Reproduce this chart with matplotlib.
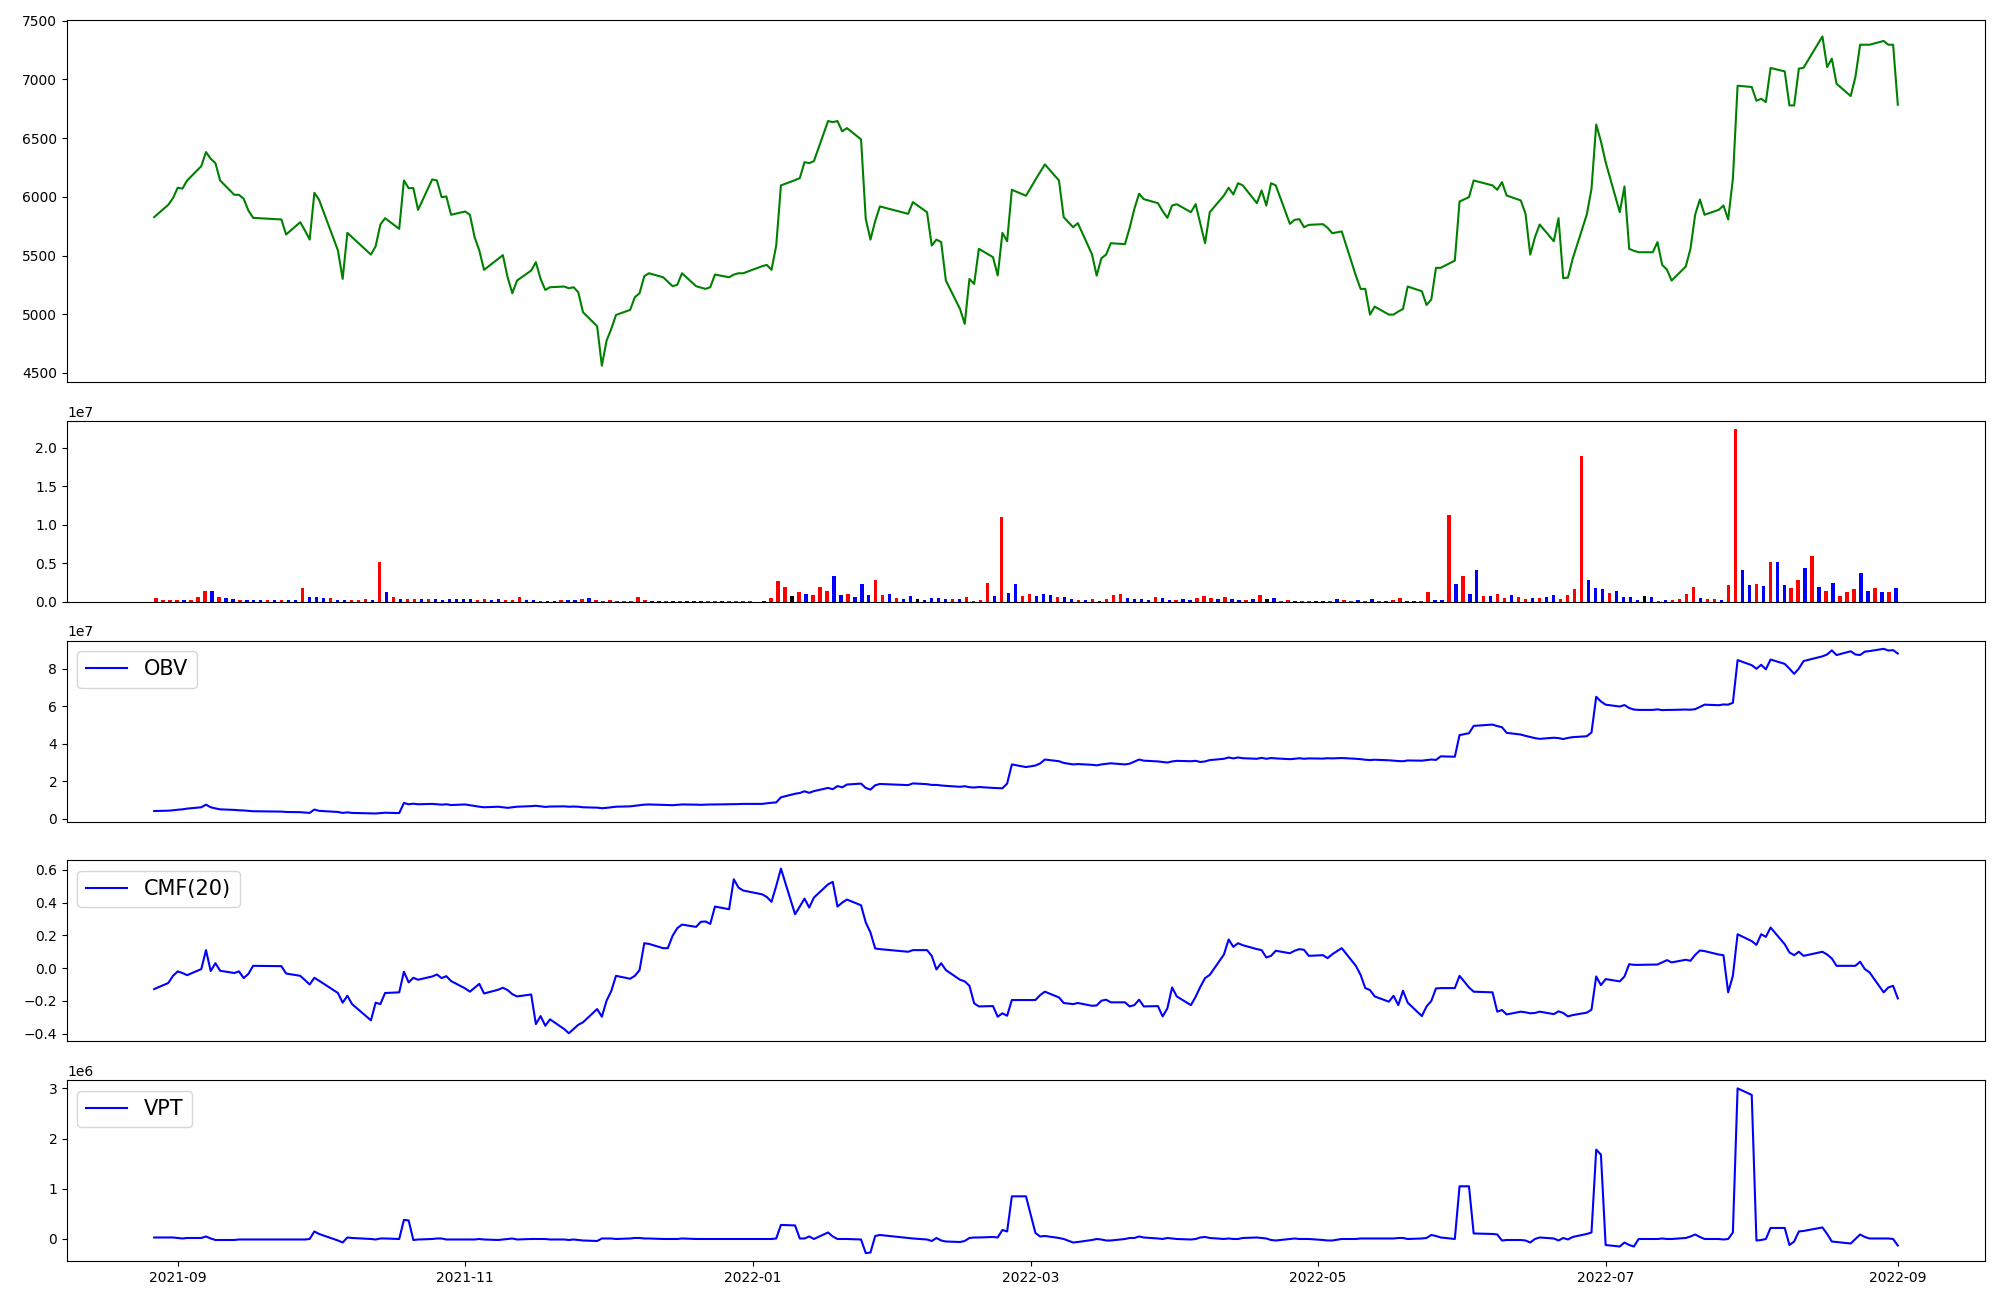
import numpy as np
import pandas as pd
import matplotlib
matplotlib.use("Agg")
import matplotlib.pyplot as plt

# Korean market holidays inside the range (no trading)
holidays = ['2021-09-20', '2021-09-21', '2021-09-22', '2021-10-04', '2021-10-11',
            '2021-12-31', '2022-01-31', '2022-02-01', '2022-02-02', '2022-03-01',
            '2022-03-09', '2022-05-05', '2022-06-01', '2022-06-06', '2022-08-15']

close = [
    5827, 5932, 5989, 6077, 6070, 6139, 6261, 6381, 6324, 6287,
    6139, 6017, 6017, 5983, 5883, 5821, 5807, 5679, 5784, 5713,
    5636, 6034, 5974, 5543, 5301, 5693, 5656, 5508, 5579, 5764,
    5818, 5727, 6139, 6074, 6074, 5889, 6148, 6139, 5997, 6003,
    5847, 5875, 5847, 5656, 5543, 5378, 5472, 5503, 5315, 5179,
    5287, 5372, 5443, 5301, 5207, 5230, 5236, 5221, 5230, 5187,
    5017, 4898, 4562, 4775, 4875, 4994, 5037, 5145, 5179, 5324,
    5349, 5315, 5278, 5239, 5250, 5349, 5239, 5227, 5216, 5230,
    5338, 5315, 5338, 5349, 5349, 5409, 5420, 5378, 5585, 6097,
    6142, 6159, 6295, 6287, 6304, 6645, 6636, 6645, 6557, 6585,
    6489, 5812, 5636, 5793, 5918, 5855, 5955, 5869, 5585, 5636,
    5614, 5287, 5045, 4918, 5301, 5258, 5557, 5486, 5330, 5693,
    5622, 6060, 6009, 6145, 6210, 6276, 6139, 5827, 5741, 5776,
    5511, 5329, 5477, 5508, 5605, 5597, 5736, 5898, 6026, 5980,
    5946, 5878, 5821, 5926, 5937, 5869, 5937, 5770, 5605, 5869,
    6011, 6077, 6020, 6116, 6097, 5946, 6054, 5926, 6116, 6097,
    5770, 5804, 5810, 5741, 5761, 5767, 5736, 5690, 5705, 5329,
    5216, 5216, 4997, 5065, 4997, 4997, 5023, 5045, 5236, 5196,
    5079, 5125, 5395, 5395, 5457, 5960, 5997, 6139, 6097, 6060,
    6125, 6011, 5969, 5855, 5508, 5656, 5764, 5622, 5818, 5307,
    5312, 5472, 5849, 6068, 6616, 6472, 6295, 5869, 6088, 5557,
    5540, 5528, 5528, 5614, 5420, 5381, 5287, 5406, 5557, 5849,
    5977, 5847, 5889, 5926, 5807, 6153, 6946, 6935, 6818, 6835,
    6807, 7097, 7068, 6778, 6778, 7091, 7099, 7366, 7105, 7176,
    6963, 6858, 7020, 7295, 7295, 7295, 7327, 7295, 7295, 6784,
]

# volume in millions of shares
volume_m = [
    0.52, 0.26, 0.26, 0.26, 0.26, 0.26, 0.65, 1.43, 1.43, 0.65,
    0.52, 0.39, 0.26, 0.26, 0.26, 0.26, 0.26, 0.26, 0.26, 0.26,
    0.26, 1.82, 0.65, 0.65, 0.52, 0.52, 0.26, 0.26, 0.26, 0.26,
    0.39, 0.26, 5.2, 1.3, 0.65, 0.39, 0.39, 0.39, 0.39, 0.39,
    0.39, 0.26, 0.39, 0.39, 0.39, 0.39, 0.26, 0.39, 0.26, 0.39,
    0.26, 0.26, 0.65, 0.26, 0.26, 0.13, 0.13, 0.13, 0.26, 0.26,
    0.26, 0.39, 0.52, 0.26, 0.13, 0.26, 0.13, 0.13, 0.13, 0.65,
    0.26, 0.13, 0.13, 0.13, 0.13, 0.13, 0.13, 0.13, 0.13, 0.13,
    0.13, 0.13, 0.13, 0.13, 0.13, 0.13, 0.05, 0.13, 0.52, 2.73,
    1.95, 0.78, 1.3, 1.04, 0.91, 1.95, 1.43, 3.38, 0.91, 1.04,
    0.65, 2.34, 0.91, 2.86, 0.91, 1.04, 0.52, 0.39, 0.78, 0.39,
    0.26, 0.52, 0.52, 0.39, 0.39, 0.39, 0.65, 0.13, 0.26, 2.47,
    0.78, 11.06, 1.17, 2.34, 0.78, 1.04, 0.78, 1.04, 0.91, 0.65,
    0.65, 0.39, 0.26, 0.26, 0.39, 0.13, 0.39, 0.91, 1.04, 0.52,
    0.39, 0.39, 0.26, 0.65, 0.52, 0.26, 0.26, 0.39, 0.26, 0.52,
    0.78, 0.52, 0.39, 0.65, 0.39, 0.26, 0.26, 0.39, 0.91, 0.39,
    0.52, 0.13, 0.26, 0.13, 0.13, 0.13, 0.13, 0.13, 0.13, 0.39,
    0.26, 0.13, 0.26, 0.13, 0.39, 0.13, 0.13, 0.26, 0.52, 0.13,
    0.13, 0.13, 1.3, 0.26, 0.26, 11.32, 2.34, 3.38, 1.04, 4.16,
    0.78, 0.78, 1.04, 0.52, 0.91, 0.65, 0.39, 0.52, 0.52, 0.65,
    0.91, 0.39, 0.91, 1.69, 18.99, 2.86, 1.82, 1.69, 1.17, 1.43,
    0.65, 0.65, 0.26, 0.78, 0.65, 0.13, 0.26, 0.26, 0.39, 1.04,
    1.95, 0.52, 0.39, 0.39, 0.26, 2.21, 22.37, 4.16, 2.21, 2.34,
    2.08, 5.2, 5.2, 2.21, 1.82, 2.86, 4.42, 6.0, 1.95, 1.43,
    2.47, 0.78, 1.3, 1.69, 3.77, 1.43, 1.82, 1.3, 1.3, 1.82,
]

# candle direction: 1 up, -1 down, 0 unchanged
direction = [
    1, 1, 1, 1, -1, 1, 1, 1, -1, 1,
    -1, -1, 1, -1, -1, -1, 1, -1, 1, -1,
    -1, 1, -1, -1, -1, 1, -1, -1, 1, 1,
    1, -1, 1, -1, 1, -1, 1, 1, -1, 1,
    -1, -1, -1, -1, -1, -1, 1, 1, -1, -1,
    1, 1, 1, -1, -1, 1, -1, -1, 1, -1,
    -1, 1, -1, 1, 1, 1, 1, 1, 1, 1,
    1, -1, -1, 1, -1, 1, -1, -1, -1, 1,
    1, -1, 1, 1, 1, 1, -1, -1, 1, 1,
    1, 0, 1, -1, 1, 1, 1, -1, -1, 1,
    -1, -1, -1, 1, 1, -1, 1, -1, -1, 0,
    -1, -1, -1, -1, 1, -1, 1, 1, 1, 1,
    -1, 1, -1, -1, 1, 1, -1, -1, -1, 1,
    -1, -1, 1, -1, 1, -1, 1, 1, 1, -1,
    -1, -1, -1, 1, -1, -1, 1, -1, -1, 1,
    1, 1, -1, 1, -1, -1, 1, -1, 1, 0,
    -1, 1, 1, -1, 1, 1, -1, -1, 1, -1,
    1, 1, -1, 1, -1, 1, -1, 1, 1, -1,
    -1, 1, 1, -1, -1, 1, -1, 1, -1, -1,
    1, -1, 1, 1, -1, 1, 1, -1, 1, -1,
    -1, 1, 1, 1, 1, -1, -1, -1, 1, -1,
    -1, -1, -1, 0, -1, 1, -1, 1, 1, 1,
    1, -1, 1, 1, -1, 1, 1, -1, -1, 1,
    -1, 1, -1, -1, 1, 1, -1, 1, -1, 1,
    -1, 1, 1, 1, -1, -1, 1, -1, 1, -1,
]

# OBV in millions
obv_m = [
    4.2, 4.4, 4.6, 4.9, 5.1, 5.5, 6.2, 7.6, 6.2, 5.6,
    5.1, 4.8, 4.6, 4.5, 4.3, 4.1, 3.9, 3.7, 3.6, 3.4,
    3.2, 5.0, 4.3, 3.7, 3.2, 3.5, 3.2, 3.0, 2.9, 3.1,
    3.3, 3.1, 8.5, 7.8, 8.1, 7.8, 8.0, 7.8, 7.6, 7.8,
    7.4, 7.7, 7.3, 6.9, 6.5, 6.2, 6.5, 6.2, 5.9, 6.2,
    6.5, 6.8, 7.0, 6.7, 6.4, 6.6, 6.7, 6.5, 6.6, 6.5,
    6.2, 6.0, 5.7, 5.9, 6.2, 6.5, 6.7, 7.0, 7.3, 7.6,
    7.7, 7.5, 7.4, 7.3, 7.5, 7.7, 7.6, 7.5, 7.6, 7.7,
    7.7, 7.8, 7.8, 7.9, 8.0, 8.0, 8.3, 8.6, 8.8, 11.5,
    13.4, 13.8, 14.7, 13.9, 14.8, 16.5, 15.8, 17.5, 16.8, 18.3,
    18.8, 16.5, 15.6, 17.9, 18.6, 18.0, 18.9, 18.5, 18.1, 18.1,
    17.8, 17.6, 17.1, 17.4, 16.9, 16.7, 17.0, 16.5, 16.4, 16.3,
    18.8, 29.0, 27.6, 28.4, 29.5, 31.6, 30.7, 29.8, 29.0, 29.2,
    28.8, 28.5, 29.0, 29.3, 29.6, 29.0, 29.4, 30.5, 31.6, 31.0,
    30.6, 30.3, 30.0, 30.6, 30.9, 30.7, 30.9, 30.3, 30.6, 31.3,
    32.0, 32.7, 32.2, 32.7, 32.3, 32.0, 32.5, 32.0, 32.4, 32.2,
    31.8, 32.0, 32.3, 32.0, 32.2, 32.1, 32.3, 32.2, 32.4, 32.0,
    31.8, 31.5, 31.3, 31.5, 31.2, 31.0, 30.8, 30.7, 31.1, 31.0,
    31.3, 31.6, 31.4, 33.3, 33.1, 44.6, 45.6, 49.5, 50.2, 49.4,
    48.8, 45.8, 44.9, 44.2, 43.6, 43.0, 42.6, 43.2, 43.0, 42.5,
    43.1, 43.5, 44.0, 46.0, 65.0, 62.5, 60.8, 59.8, 60.6, 59.0,
    58.2, 58.0, 58.0, 58.3, 57.9, 58.0, 58.0, 58.2, 58.1, 58.4,
    59.6, 60.8, 60.5, 60.9, 60.8, 61.8, 84.5, 81.8, 79.9, 82.0,
    79.6, 84.8, 82.5, 80.0, 77.2, 80.0, 84.0, 86.5, 87.5, 89.7,
    87.2, 89.2, 87.5, 87.2, 89.0, 89.3, 90.5, 89.6, 89.8, 88.0,
]

cmf20 = [
    -0.128, -0.091, -0.047, -0.020, -0.030, -0.043, -0.006, 0.110, -0.018, 0.030,
    -0.016, -0.030, -0.020, -0.061, -0.035, 0.014, 0.012, -0.033, -0.047, -0.073,
    -0.100, -0.059, -0.077, -0.152, -0.211, -0.169, -0.220, -0.319, -0.211, -0.220,
    -0.152, -0.148, -0.022, -0.087, -0.059, -0.071, -0.051, -0.039, -0.061, -0.049,
    -0.079, -0.124, -0.144, -0.120, -0.096, -0.155, -0.132, -0.120, -0.134, -0.159,
    -0.173, -0.161, -0.342, -0.293, -0.352, -0.313, -0.372, -0.398, -0.372, -0.346,
    -0.331, -0.250, -0.297, -0.199, -0.140, -0.047, -0.065, -0.047, -0.012, 0.152,
    0.148, 0.122, 0.122, 0.197, 0.244, 0.266, 0.252, 0.283, 0.285, 0.270,
    0.376, 0.360, 0.543, 0.492, 0.474, 0.451, 0.435, 0.405, 0.502, 0.608,
    0.329, 0.376, 0.425, 0.370, 0.431, 0.512, 0.527, 0.376, 0.400, 0.419,
    0.384, 0.279, 0.218, 0.120, 0.116, 0.100, 0.110, 0.110, 0.075, -0.008,
    0.030, -0.012, -0.071, -0.081, -0.108, -0.215, -0.234, -0.232, -0.297, -0.276,
    -0.291, -0.195, -0.195, -0.195, -0.165, -0.144, -0.179, -0.213, -0.220, -0.213,
    -0.230, -0.228, -0.199, -0.193, -0.209, -0.209, -0.234, -0.226, -0.193, -0.234,
    -0.232, -0.295, -0.246, -0.118, -0.173, -0.226, -0.175, -0.114, -0.061, -0.041,
    0.083, 0.175, 0.130, 0.152, 0.140, 0.116, 0.110, 0.065, 0.075, 0.106,
    0.091, 0.106, 0.116, 0.112, 0.075, 0.079, 0.061, 0.085, 0.122, 0.014,
    -0.041, -0.122, -0.134, -0.173, -0.205, -0.169, -0.226, -0.138, -0.211, -0.293,
    -0.234, -0.201, -0.124, -0.122, -0.122, -0.047, -0.118, -0.144, -0.148, -0.266,
    -0.256, -0.283, -0.266, -0.270, -0.276, -0.274, -0.266, -0.281, -0.264, -0.274,
    -0.295, -0.287, -0.272, -0.254, -0.051, -0.104, -0.067, -0.081, -0.051, 0.024,
    0.020, 0.020, 0.022, 0.022, 0.035, 0.049, 0.035, 0.051, 0.045, 0.081,
    0.108, 0.104, 0.083, 0.079, -0.148, -0.047, 0.207, 0.165, 0.142, 0.207,
    0.191, 0.248, 0.146, 0.096, 0.079, 0.100, 0.075, 0.100, 0.083, 0.059,
    0.014, 0.014, 0.014, 0.039, -0.006, -0.026, -0.148, -0.118, -0.108, -0.185,
]

# VPT in millions
vpt_m = [
    0.03, 0.03, 0.03, 0.02, 0.01, 0.02, 0.02, 0.05, 0.01, -0.02,
    -0.02, -0.02, -0.01, -0.01, -0.01, -0.01, -0.01, -0.01, -0.01, -0.01,
    0.0, 0.15, 0.10, -0.03, -0.07, 0.03, 0.02, 0.0, -0.01, 0.01,
    0.01, 0.0, 0.38, 0.37, -0.02, -0.01, 0.0, 0.01, 0.01, -0.01,
    -0.01, -0.01, -0.01, -0.01, 0.0, -0.01, -0.02, -0.01, 0.0, 0.01,
    -0.01, 0.0, 0.0, 0.0, 0.0, -0.01, -0.01, -0.02, -0.01, -0.02,
    -0.03, -0.04, 0.01, 0.01, 0.01, 0.0, 0.01, 0.02, 0.02, 0.01,
    0.01, 0.0, 0.0, 0.0, 0.0, 0.01, 0.0, 0.0, 0.0, 0.0,
    0.0, 0.0, 0.0, 0.0, 0.0, 0.0, 0.0, 0.0, 0.01, 0.28,
    0.27, 0.01, 0.01, 0.05, 0.0, 0.13, 0.05, 0.0, 0.0, 0.0,
    -0.01, -0.28, -0.27, 0.06, 0.08, 0.02, 0.01, -0.01, -0.04, 0.02,
    -0.03, -0.05, -0.06, -0.04, 0.02, 0.03, 0.03, 0.04, 0.03, 0.18,
    0.15, 0.85, 0.85, 0.12, 0.05, 0.06, 0.02, 0.0, -0.07, -0.06,
    -0.02, 0.0, -0.01, -0.03, -0.03, 0.0, 0.02, 0.02, 0.05, 0.03,
    0.01, 0.0, 0.02, 0.01, 0.0, -0.01, 0.0, 0.03, 0.04, 0.02,
    0.0, 0.01, 0.0, 0.0, 0.02, 0.03, 0.02, 0.01, -0.02, -0.03,
    0.0, 0.01, 0.0, 0.0, 0.0, -0.02, -0.03, -0.03, 0.0, 0.0,
    0.01, 0.01, 0.01, 0.01, 0.01, 0.01, 0.02, 0.02, 0.0, 0.01,
    0.02, 0.08, 0.06, 0.03, 0.0, 1.05, 1.05, 0.11, 0.10, 0.09,
    -0.03, -0.02, -0.02, -0.03, -0.07, 0.0, 0.03, 0.01, -0.03, 0.02,
    -0.01, 0.04, 0.10, 0.13, 1.78, 1.68, -0.12, -0.15, -0.07, -0.12,
    -0.15, 0.0, 0.0, 0.0, 0.01, 0.0, 0.0, 0.02, 0.05, 0.09,
    0.04, 0.0, 0.0, -0.01, 0.0, 0.13, 3.0, 2.87, -0.03, -0.02,
    0.0, 0.22, 0.22, -0.12, -0.05, 0.15, 0.16, 0.23, 0.10, -0.05,
    -0.06, -0.09, 0.0, 0.09, 0.04, 0.01, 0.01, 0.01, 0.0, -0.13,
]

dates = pd.bdate_range('2021-08-27', '2022-09-01')
dates = dates[~dates.isin(pd.to_datetime(holidays))]
n = min(len(dates), len(close))
dates = dates[:n]

volume = np.array(volume_m[:n]) * 1e6
obv = np.array(obv_m[:n]) * 1e6
vpt = np.array(vpt_m[:n]) * 1e6
bar_colors = ['red' if d > 0 else ('blue' if d < 0 else 'black') for d in direction[:n]]

fig, axes = plt.subplots(5, 1, figsize=(20, 13),
                         gridspec_kw={'height_ratios': [2, 1, 1, 1, 1]})
ax_p, ax_v, ax_o, ax_c, ax_t = axes

ax_p.plot(dates, close[:n], color='green')
ax_v.bar(np.arange(n), volume, color=bar_colors, width=0.5)
ax_o.plot(dates, obv, color='blue', label='OBV')
ax_c.plot(dates, cmf20[:n], color='blue', label='CMF(20)')
ax_t.plot(dates, vpt, color='blue', label='VPT')

for ax in (ax_o, ax_c, ax_t):
    ax.legend(loc='upper left', fontsize=15)
for ax in (ax_p, ax_v, ax_o, ax_c):
    ax.set_xticks([])

fig.tight_layout()
fig.savefig('out.png', dpi=100)
